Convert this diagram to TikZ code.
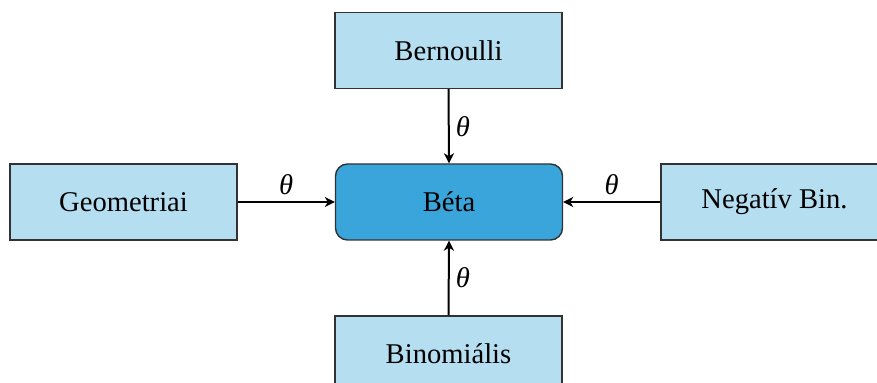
\documentclass[tikz,border=0pt]{standalone}
\usepackage{fontspec}
\setmainfont{Liberation Serif}
\usetikzlibrary{arrows.meta}
\definecolor{lightbox}{RGB}{181,222,240}
\definecolor{mainbox}{RGB}{58,165,218}
\definecolor{edgegray}{RGB}{50,50,50}
\begin{document}
\begin{tikzpicture}[x=0.5pt,y=-0.5pt,
  srcbox/.style={draw=edgegray,line width=0.7pt,fill=lightbox,minimum width=113.5pt,minimum height=38pt,inner sep=0pt,font=\fontsize{14.3}{17}\selectfont},
  betabox/.style={srcbox,fill=mainbox,rounded corners=6pt},
  conn/.style={-{Stealth[length=5pt,width=5pt,inset=1.5pt]},line width=1pt,black},
  lbl/.style={font=\fontsize{14.3}{17}\selectfont\itshape,inner sep=3pt}]
\useasboundingbox (0,0) rectangle (877,383);
\node[betabox] (beta) at (449,202) {Béta};
\node[srcbox] (bern) at (448.5,50.5) {Bernoulli};
\node[srcbox] (geo) at (123.5,202) {Geometriai};
\node[srcbox] (neg) at (774.5,202) {Negatív Bin.};
\node[srcbox] (binom) at (448.5,354) {Binomiális};
\draw[conn] (bern.south) -- node[lbl,right,pos=0.5] {θ} (beta.north);
\draw[conn] (geo.east) -- node[lbl,above,pos=0.5] {θ} (beta.west);
\draw[conn] (neg.west) -- node[lbl,above,pos=0.5] {θ} (beta.east);
\draw[conn] (binom.north) -- node[lbl,right,pos=0.5] {θ} (beta.south);
\end{tikzpicture}
\end{document}
